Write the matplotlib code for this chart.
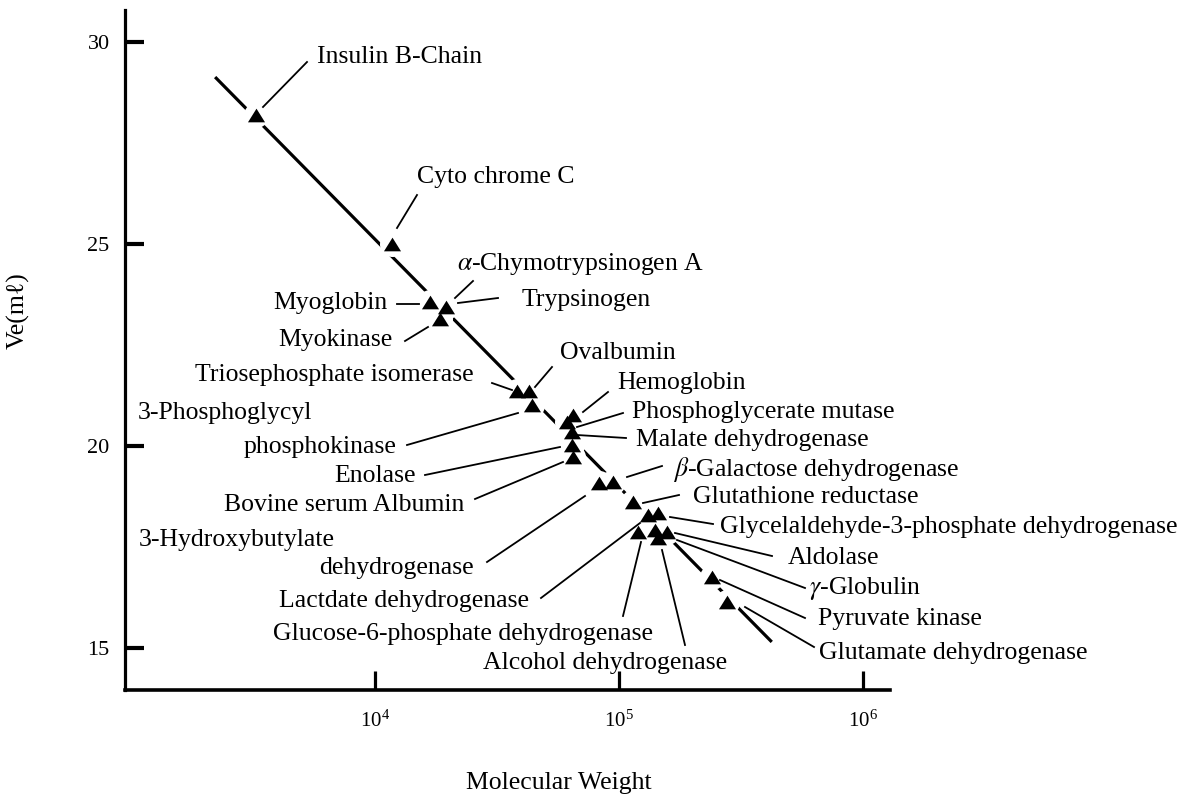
import matplotlib
matplotlib.use('Agg')
import matplotlib.pyplot as plt
from matplotlib.lines import Line2D
from matplotlib.path import Path
from matplotlib.ticker import NullLocator, FixedLocator, FixedFormatter

plt.rcParams['font.family'] = ['Liberation Serif', 'DejaVu Serif']
plt.rcParams['mathtext.fontset'] = 'stix'

# 分子量と溶出体積 (読み取り値)
marker_mw = [3245, 11700, 16800, 19600, 18450, 38100, 42800, 44000,
             65000, 61100, 64000, 64000, 65000, 83000, 94800, 114500,
             132000, 145000, 120000, 140500, 145000, 157800, 240000, 276000]
marker_ve = [28.18, 25.0, 23.56, 23.42, 23.13, 21.35, 21.35, 21.0,
             20.76, 20.59, 20.34, 20.01, 19.72, 19.08, 19.10, 18.61,
             18.28, 18.32, 17.87, 17.91, 17.70, 17.87, 16.74, 16.13]

# 検量線
fit_mw = [2210, 422600]
fit_ve = [29.12, 15.14]

x_ticks = [1e4, 1e5, 1e6]
x_ticklabels = ['$\\mathregular{10^{4}}$', '$\\mathregular{10^{5}}$', '$\\mathregular{10^{6}}$']
y_ticks = [15, 20, 25, 30]

# ラベル文字列
protein_labels = ['Insulin B-Chain', 'Cyto chrome C', '$\\alpha$-Chymotrypsinogen A',
                  'Myoglobin', 'Trypsinogen', 'Myokinase', 'Ovalbumin',
                  'Triosephosphate isomerase', 'Hemoglobin', '3-Phosphoglycyl',
                  'phosphokinase', 'Phosphoglycerate mutase', 'Malate dehydrogenase',
                  'Enolase', '$\\beta$-Galactose dehydrogenase', 'Bovine serum Albumin',
                  'Glutathione reductase', 'Glycelaldehyde-3-phosphate dehydrogenase',
                  '3-Hydroxybutylate', 'dehydrogenase', 'Aldolase',
                  'Lactdate dehydrogenase', '$\\gamma$-Globulin', 'Pyruvate kinase',
                  'Glucose-6-phosphate dehydrogenase', 'Glutamate dehydrogenase',
                  'Alcohol dehydrogenase']

# ラベル配置 (画像ピクセル座標, 揃え)
label_pos = [(317, 57, 'left'), (417, 177, 'left'), (457, 264, 'left'),
             (388, 303, 'right'), (522, 300, 'left'), (393, 340, 'right'),
             (560, 353, 'left'), (474, 375, 'right'), (617, 383, 'left'),
             (138, 413, 'left'), (396, 447, 'right'), (632, 412, 'left'),
             (636, 440, 'left'), (416, 476, 'right'), (673, 469, 'left'),
             (464, 505, 'right'), (693, 497, 'left'), (720, 527, 'left'),
             (139, 540, 'left'), (474, 568, 'right'), (788, 558, 'left'),
             (529, 601, 'right'), (809, 588, 'left'), (818, 619, 'left'),
             (273, 634, 'left'), (819, 653, 'left'), (483, 663, 'left')]

# 引き出し線 (画像ピクセル座標)
leaders = [(263, 107, 307, 62), (397, 228, 417, 195), (455, 298, 473, 281),
           (397, 304, 419, 304), (458, 303, 498, 298), (405, 341, 428, 327),
           (535, 387, 552, 367), (492, 383, 512, 390), (583, 412, 608, 392),
           (407, 445, 518, 413), (577, 427, 623, 413), (577, 435, 626, 438),
           (425, 475, 560, 447), (627, 477, 662, 466), (475, 499, 563, 462),
           (643, 503, 679, 495), (670, 517, 713, 524), (487, 562, 585, 496),
           (675, 533, 772, 556), (541, 598, 640, 523), (677, 540, 805, 588),
           (720, 580, 805, 618), (641, 542, 623, 616), (745, 607, 814, 647),
           (662, 550, 685, 645)]

W, H = 1190, 796
fig = plt.figure(figsize=(W / 100, H / 100), dpi=100)
ax = fig.add_axes([125 / W, 1 - 690 / H, (890 - 125) / W, (690 - 10) / H])


def fig_xy(px, py):
    return px / W, 1 - py / H


# 三角マーカー (中心基準)
tri = Path([(-1, -0.8), (1, -0.8), (0, 0.8), (-1, -0.8)],
           [Path.MOVETO, Path.LINETO, Path.LINETO, Path.CLOSEPOLY])

ax.plot(fit_mw, fit_ve, color='black', lw=2.3, zorder=1, solid_capstyle='butt')
ax.plot(marker_mw, marker_ve, 'o', color='white', ms=18, zorder=2, mew=0)
ax.plot(marker_mw, marker_ve, linestyle='none', marker=tri, color='black',
        ms=12.3, mew=0, zorder=3)

ax.set_xscale('log')
ax.set_xlim(944, 1.29e6)
ax.set_ylim(13.95, 30.78)
ax.xaxis.set_major_locator(FixedLocator(x_ticks))
ax.xaxis.set_major_formatter(FixedFormatter(x_ticklabels))
ax.xaxis.set_minor_locator(NullLocator())
ax.set_yticks(y_ticks)
ax.yaxis.set_minor_locator(NullLocator())

for s in ['top', 'right']:
    ax.spines[s].set_visible(False)
ax.spines['left'].set_linewidth(2.3)
ax.spines['bottom'].set_linewidth(2.6)
ax.tick_params(axis='y', direction='in', length=14, width=3, pad=11, labelsize=16)
ax.tick_params(axis='x', direction='in', length=14, width=2.3, pad=15, labelsize=15)

fig.text(559 / W, 1 - 783 / H, 'Molecular Weight', ha='center', va='center', fontsize=18.5)
fig.text(18 / W, 1 - 311 / H, 'Ve(mℓ)', ha='center', va='center', rotation=90, fontsize=18.5)

for txt, (px, py, ha) in zip(protein_labels, label_pos):
    x, y = fig_xy(px, py)
    fig.text(x, y, txt, ha=ha, va='center', fontsize=18.5)

for x0, y0, x1, y1 in leaders:
    a = fig_xy(x0, y0)
    b = fig_xy(x1, y1)
    fig.add_artist(Line2D([a[0], b[0]], [a[1], b[1]], transform=fig.transFigure,
                          color='black', lw=1.3))

fig.savefig('out.png', dpi=100, facecolor='white')
